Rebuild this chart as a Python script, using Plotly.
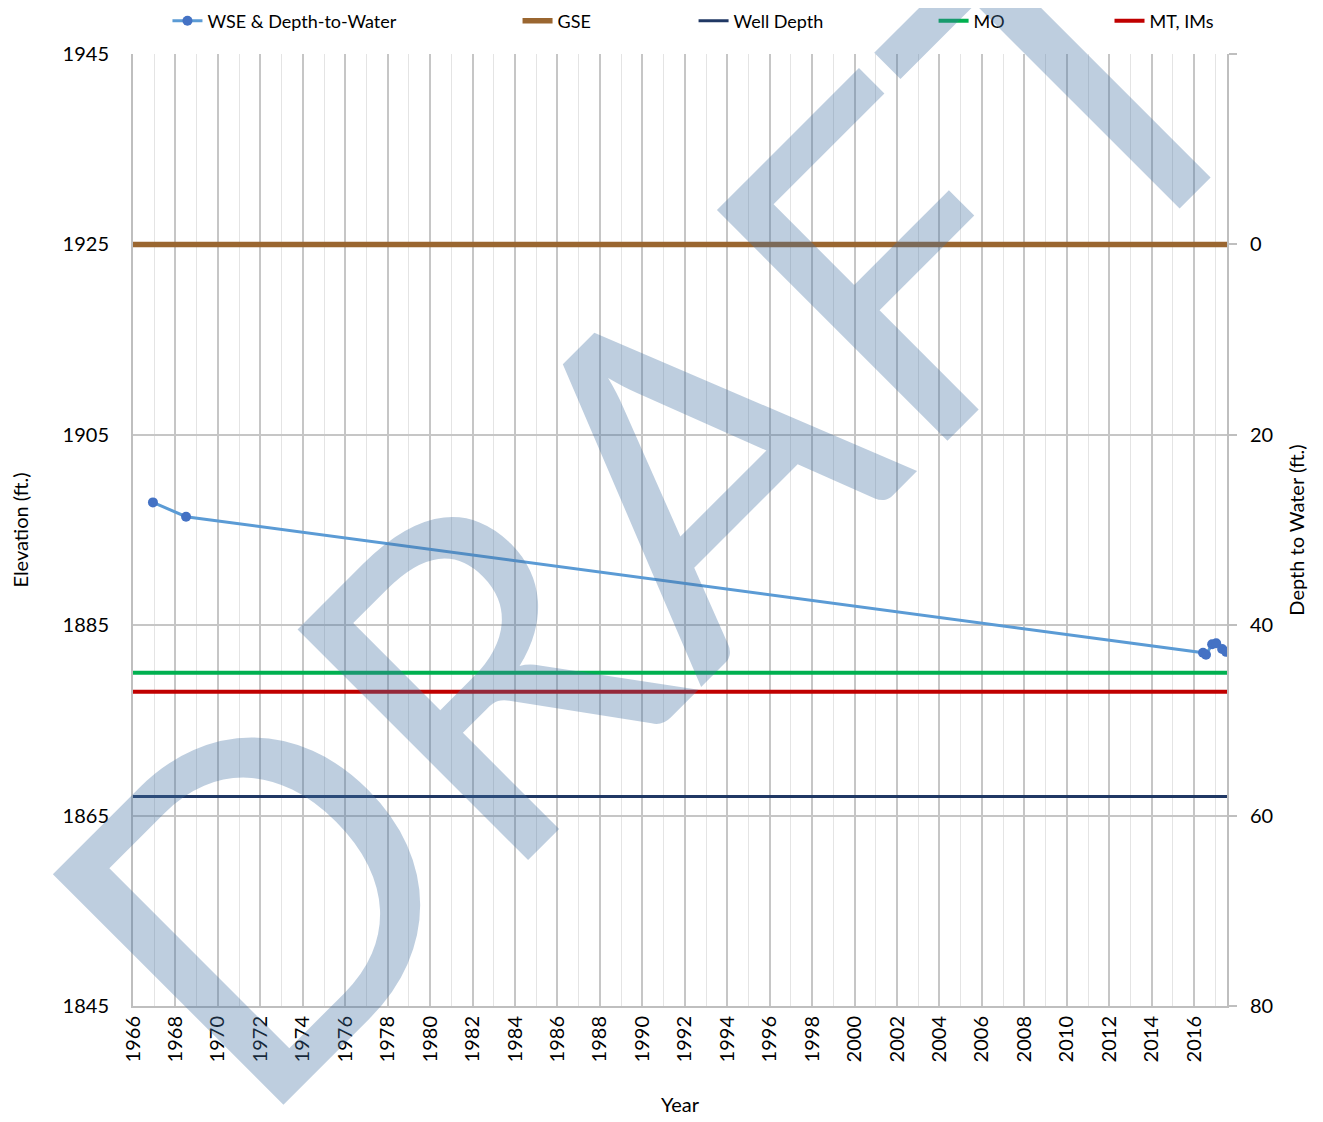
import plotly.graph_objects as go

# ---- data ----
wse_years = [1966.94, 1968.50, 2016.42, 2016.56, 2016.85, 2017.04, 2017.32, 2017.51]
wse_elev = [1897.9, 1896.4, 1882.1, 1881.9, 1883.0, 1883.1, 1882.5, 1882.2]

gse = 1925.0
mo = 1880.0
mt = 1878.0
well_depth_elev = 1867.0

x_start, x_end = 1966.0, 2017.55
y_min, y_max = 1845, 1945
x_ticks = list(range(1966, 2017, 2))
depth_ticks = [-20, 0, 20, 40, 60, 80]
depth_labels = ["", "0", "20", "40", "60", "80"]

FONT = "Lato, Open Sans, sans-serif"
GRID_MAJOR = "#c6c6c6"
GRID_MINOR = "#e4e4e4"

fig = go.Figure()

def hline(val, name, color, width, legend):
    fig.add_trace(go.Scatter(
        x=[x_start, x_end], y=[val, val], mode="lines", name=name,
        line=dict(color=color, width=width), legend=legend, hoverinfo="skip"))

hline(gse, "GSE", "#9a6630", 5.5, "legend2")
hline(well_depth_elev, "Well Depth", "#203864", 3, "legend3")
hline(mo, "MO", "#00b050", 4, "legend4")
hline(mt, "MT, IMs", "#c00000", 4, "legend5")

fig.add_trace(go.Scatter(
    x=wse_years, y=wse_elev, mode="lines+markers", name="WSE & Depth-to-Water",
    line=dict(color="#5b9bd5", width=3),
    marker=dict(color="#4472c4", size=10),
    legend="legend"))

# invisible trace to activate right axis
fig.add_trace(go.Scatter(x=[x_start], y=[0], yaxis="y2", mode="markers",
                         marker=dict(opacity=0), showlegend=False, hoverinfo="skip"))

# watermark
fig.add_annotation(text="DRAFT", x=0.47, y=0.54, xref="paper", yref="paper",
                   showarrow=False, textangle=-45,
                   font=dict(family=FONT, size=455, color="rgba(70,116,162,0.35)"))

legend_common = dict(orientation="h", yref="container", yanchor="middle", y=0.9884,
                     xanchor="left",
                     font=dict(family=FONT, size=18, color="#000000"),
                     bgcolor="rgba(0,0,0,0)")
fig.update_layout(
    width=1323, height=1122,
    margin=dict(l=125, r=104, t=46, b=124, autoexpand=False),
    paper_bgcolor="white", plot_bgcolor="white",
    font=dict(family=FONT, size=20, color="#000000"),
    legend=dict(x=0.0315, **legend_common),
    legend2=dict(x=0.3515, **legend_common),
    legend3=dict(x=0.5124, **legend_common),
    legend4=dict(x=0.7318, **legend_common),
    legend5=dict(x=0.8926, **legend_common),
    xaxis=dict(
        range=[x_start, x_end], tickmode="array", tickvals=x_ticks,
        ticktext=[str(t) for t in x_ticks], tickangle=-90, automargin=False,
        showgrid=True, gridcolor=GRID_MAJOR, gridwidth=2,
        minor=dict(dtick=1, tick0=1966, showgrid=True, gridcolor=GRID_MINOR, gridwidth=1),
        showline=True, linecolor="#bfbfbf", linewidth=2, zeroline=False,
        ticks="", title=dict(text="Year", font=dict(size=20), standoff=37),
        tickfont=dict(size=20),
    ),
    yaxis=dict(
        range=[y_min, y_max], dtick=20, tick0=1845, automargin=False,
        showgrid=True, gridcolor=GRID_MAJOR, gridwidth=1.5,
        showline=True, linecolor="#bfbfbf", linewidth=2, zeroline=False,
        ticks="", ticklabelstandoff=18,
        title=dict(text="Elevation (ft.)", font=dict(size=20), standoff=32),
        tickfont=dict(size=20),
    ),
    yaxis2=dict(
        overlaying="y", side="right", range=[80, -20], automargin=False,
        tickmode="array", tickvals=depth_ticks, ticktext=depth_labels,
        showgrid=False, zeroline=False,
        showline=True, linecolor="#bfbfbf", linewidth=2,
        ticks="outside", ticklen=8, tickcolor="#bfbfbf", tickwidth=2,
        ticklabelstandoff=9,
        title=dict(text="Depth to Water (ft.)", font=dict(size=20), standoff=18),
        tickfont=dict(size=20),
    ),
)

fig.write_html("out.html")
